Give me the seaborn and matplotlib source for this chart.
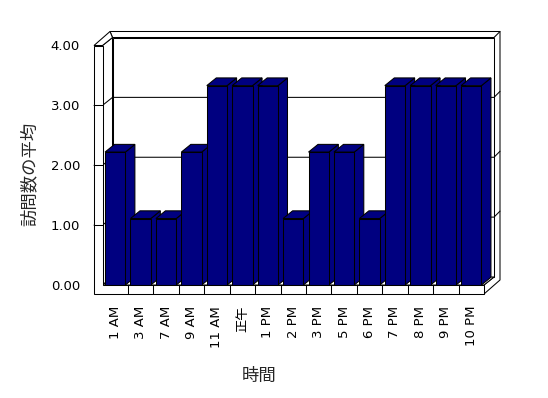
import numpy as np
import pandas as pd
import matplotlib
matplotlib.use("Agg")
import matplotlib.pyplot as plt
from matplotlib.patches import Polygon, Rectangle
from matplotlib.lines import Line2D
from matplotlib.transforms import IdentityTransform
import seaborn as sns

# ---- data ----
hours = ["1 AM", "3 AM", "7 AM", "9 AM", "11 AM", "正午", "1 PM", "2 PM",
         "3 PM", "5 PM", "6 PM", "7 PM", "8 PM", "9 PM", "10 PM"]
avg_visits = [2.22, 1.11, 1.11, 2.22, 3.33, 3.33, 3.33, 1.11,
              2.22, 2.22, 1.11, 3.33, 3.33, 3.33, 3.33]
y_ticks = [0, 1, 2, 3, 4]
y_tick_labels = ["0.00", "1.00", "2.00", "3.00", "4.00"]
x_title = "時間"
y_title = "訪問数の平均"

sns.set_style("white")
plt.rcParams["font.family"] = ["DejaVu Sans", "Noto Sans CJK JP"]

W, H = 548, 398
fig = plt.figure(figsize=(W / 100, H / 100), dpi=100)
fig.patch.set_facecolor("white")

# layout of the front plane (pixels, y measured from top)
X0, X1 = 102.5, 484.0
YTOP, Y0 = 45.5, 285.0
WALL_L = 94.0        # outer left of the left wall front face
FLOOR_B = 294.0      # bottom of floor front face
DX1, DY1 = 10, -8    # depth to back wall front face
DX2, DY2 = 16, -14   # depth to back wall back face
BDX, BDY = 9.5, -7.7 # bar depth
LW = 0.75

ax = fig.add_axes([X0 / W, (H - Y0) / H, (X1 - X0) / W, (Y0 - YTOP) / H])
ax.set_facecolor("none")

df = pd.DataFrame({"hour": hours, "avg": avg_visits})
sns.barplot(data=df, x="hour", y="avg", order=hours, color="#000080",
            saturation=1, width=0.8, edgecolor="black", linewidth=LW, ax=ax)

ax.set_xlim(-0.5, len(hours) - 0.5)
ax.set_ylim(0, 4)
ax.set_yticks(y_ticks)
ax.set_yticklabels(y_tick_labels)
for s in ax.spines.values():
    s.set_visible(False)
ax.grid(False)
ax.tick_params(axis="y", length=0, pad=16.2, labelsize=9.5, colors="black")
ax.tick_params(axis="x", length=0, pad=15.0, labelsize=9.5, rotation=90, colors="black")

ax.set_xlabel(x_title, family=["Noto Sans CJK JP", "DejaVu Sans"], fontsize=12.5)
ax.set_ylabel(y_title, family=["Noto Sans CJK JP", "DejaVu Sans"], fontsize=12.5)
ax.xaxis.label.set(ha="center", va="center")
ax.yaxis.label.set(ha="center", va="center")
ax.xaxis.set_label_coords((259 - X0) / (X1 - X0), (Y0 - 376) / (Y0 - YTOP))
ax.yaxis.set_label_coords((30 - X0) / (X1 - X0), (Y0 - 174) / (Y0 - YTOP))

ident = IdentityTransform()

def P(x, y):
    return (x, H - y)

def poly(pts, z, fc="white", lw=LW):
    p = Polygon([P(*q) for q in pts], closed=True, facecolor=fc, edgecolor="black",
                linewidth=lw, transform=ident, clip_on=False, zorder=z)
    ax.add_patch(p)

def line(pts, z, lw=LW):
    xs = [P(*q)[0] for q in pts]
    ys = [P(*q)[1] for q in pts]
    ax.add_line(Line2D(xs, ys, color="black", linewidth=lw, transform=ident,
                       clip_on=False, zorder=z))

# back wall: whole outer silhouette then the front face
poly([(WALL_L + DX2, YTOP + DY2), (X1 + DX2, YTOP + DY2), (X1 + DX2, FLOOR_B + DY2),
      (X1, FLOOR_B), (X1, Y0), (X1 + DX1, Y0 + DY1), (X1 + DX1, YTOP + DY1),
      (X0 + DX1, YTOP + DY1)], 0.3)
poly([(X0 + DX1, YTOP + DY1), (X1 + DX1, YTOP + DY1), (X1 + DX1, Y0 + DY1),
      (X0 + DX1, Y0 + DY1)], 0.4)
line([(X1 + DX1, YTOP + DY1), (X1 + DX2, YTOP + DY2)], 0.45)
# left wall inner face and top
poly([(X0, YTOP), (X0 + DX1, YTOP + DY1), (X0 + DX1, Y0 + DY1), (X0, Y0)], 0.5)
poly([(WALL_L, YTOP), (X0, YTOP), (X0 + DX1, YTOP + DY1), (WALL_L + DX2, YTOP + DY2)], 0.5)
# floor top
poly([(X0, Y0), (X1, Y0), (X1 + DX1, Y0 + DY1), (X0 + DX1, Y0 + DY1)], 0.6)

# gridlines wrapping around the walls
scale = (Y0 - YTOP) / 4.0
for v in y_ticks[1:-1]:
    yf = Y0 - v * scale
    line([(WALL_L, yf), (X0, yf), (X0 + DX1, yf + DY1), (X1 + DX1, yf + DY1),
          (X1 + DX2, yf + DY2)], 0.7)

# 3D faces of the bars, derived from the seaborn bar patches
fig.canvas.draw()
bars = [p for p in ax.patches if isinstance(p, Rectangle) and p.get_transform() is not ident]
bars = sorted(bars, key=lambda r: r.get_x())
for i, b in enumerate(bars):
    z = 2 + i * 0.01
    b.set_zorder(z + 0.005)
    (x0, y0), (x1, y1) = ax.transData.transform([(b.get_x(), 0), (b.get_x() + b.get_width(), b.get_height())])
    top = H - y1
    bot = H - y0
    side = Polygon([(x1, H - top), (x1 + BDX, H - (top + BDY)), (x1 + BDX, H - (bot + BDY)), (x1, H - bot)],
                   closed=True, facecolor="#000080", edgecolor="black", linewidth=LW,
                   transform=ident, clip_on=False, zorder=z)
    topf = Polygon([(x0, H - top), (x1, H - top), (x1 + BDX, H - (top + BDY)), (x0 + BDX, H - (top + BDY))],
                   closed=True, facecolor="#000080", edgecolor="black", linewidth=LW,
                   transform=ident, clip_on=False, zorder=z)
    ax.add_patch(side)
    ax.add_patch(topf)

# floor front face and left wall front face
poly([(WALL_L, YTOP), (X0, YTOP), (X0, Y0), (X1, Y0), (X1, FLOOR_B), (WALL_L, FLOOR_B)], 5)
cw = (X1 - X0) / len(hours)
for k in range(1, len(hours)):
    xb = X0 + k * cw
    line([(xb, Y0), (xb, FLOOR_B)], 5.1)
for v in y_ticks[1:-1]:
    yf = Y0 - v * scale
    line([(WALL_L, yf), (X0, yf)], 5.1)

fig.savefig("out.png", dpi=100, facecolor="white")
